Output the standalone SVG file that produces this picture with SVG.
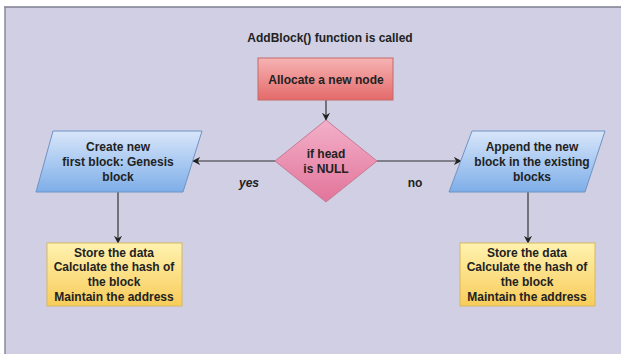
<svg xmlns="http://www.w3.org/2000/svg" width="621" height="354" viewBox="0 0 621 354">
<defs>
<linearGradient id="gRed" x1="0" y1="0" x2="0" y2="1"><stop offset="0" stop-color="#f6b3b3"/><stop offset="1" stop-color="#e46a6a"/></linearGradient>
<linearGradient id="gPink" x1="0" y1="0" x2="0" y2="1"><stop offset="0" stop-color="#f3b0c8"/><stop offset="1" stop-color="#e2749a"/></linearGradient>
<linearGradient id="gBlue" x1="0" y1="0" x2="0" y2="1"><stop offset="0" stop-color="#d8e6fa"/><stop offset="1" stop-color="#7eaee8"/></linearGradient>
<linearGradient id="gYellow" x1="0" y1="0" x2="0" y2="1"><stop offset="0" stop-color="#fff2b0"/><stop offset="1" stop-color="#f8cc5a"/></linearGradient>
<marker id="arr" viewBox="0 0 10 10" refX="9" refY="5" markerWidth="8" markerHeight="8" markerUnits="userSpaceOnUse" orient="auto"><path d="M0,0 L10,5 L0,10 L3,5 z" fill="#222"/></marker>
</defs>
<style>
text{font-family:"Liberation Sans",Arial,sans-serif;font-weight:bold;font-size:12px;fill:#222;text-anchor:middle}
.ln{stroke:#333;stroke-width:1.2;fill:none}
</style>
<rect x="0" y="0" width="621" height="354" fill="#ffffff"/>
<rect x="5" y="7" width="620" height="350" fill="#d0cfe3"/>
<line x1="4" y1="7" x2="621" y2="7" stroke="#7e7e90" stroke-width="1.5"/>
<line x1="5" y1="7" x2="5" y2="354" stroke="#8a8a9a" stroke-width="1.5"/>
<g id="title"><text x="330" y="42">AddBlock() function is called</text></g>
<g id="connectors">
<line class="ln" x1="326" y1="100" x2="326" y2="120" marker-end="url(#arr)"/>
<line class="ln" x1="275" y1="161" x2="193" y2="161" marker-end="url(#arr)"/>
<line class="ln" x1="377" y1="161" x2="461" y2="161" marker-end="url(#arr)"/>
<line class="ln" x1="118" y1="192" x2="118" y2="243" marker-end="url(#arr)"/>
<line class="ln" x1="528" y1="192" x2="528" y2="243" marker-end="url(#arr)"/>
<text x="249" y="187" font-style="italic">yes</text>
<text x="415" y="187">no</text>
</g>
<g id="allocate"><rect x="258" y="58" width="135" height="42" fill="url(#gRed)" stroke="#c46a6a"/><text x="326" y="84">Allocate a new node</text></g>
<g id="decision"><polygon points="326,120 377,161 326,202 275,161" fill="url(#gPink)" stroke="#c77a96"/><text x="326" y="158">if head</text><text x="326" y="173">is NULL</text></g>
<g id="genesis"><polygon points="53,131 202,131 183,192 36,192" fill="url(#gBlue)" stroke="#6f93c4"/><text x="118" y="151">Create new</text><text x="118" y="166">first block: Genesis</text><text x="118" y="181">block</text></g>
<g id="append"><polygon points="472,131 605,131 585,192 449,192" fill="url(#gBlue)" stroke="#6f93c4"/><text x="532" y="151">Append the new</text><text x="532" y="166">block in the existing</text><text x="532" y="181">blocks</text></g>
<g id="storeLeft"><rect x="47" y="243" width="135" height="63" fill="url(#gYellow)" stroke="#d8b85e"/><text x="114" y="257">Store the data</text><text x="114" y="271">Calculate the hash of</text><text x="114" y="286">the block</text><text x="114" y="301">Maintain the address</text></g>
<g id="storeRight"><rect x="460" y="243" width="135" height="63" fill="url(#gYellow)" stroke="#d8b85e"/><text x="527" y="257">Store the data</text><text x="527" y="271">Calculate the hash of</text><text x="527" y="286">the block</text><text x="527" y="301">Maintain the address</text></g>
</svg>
